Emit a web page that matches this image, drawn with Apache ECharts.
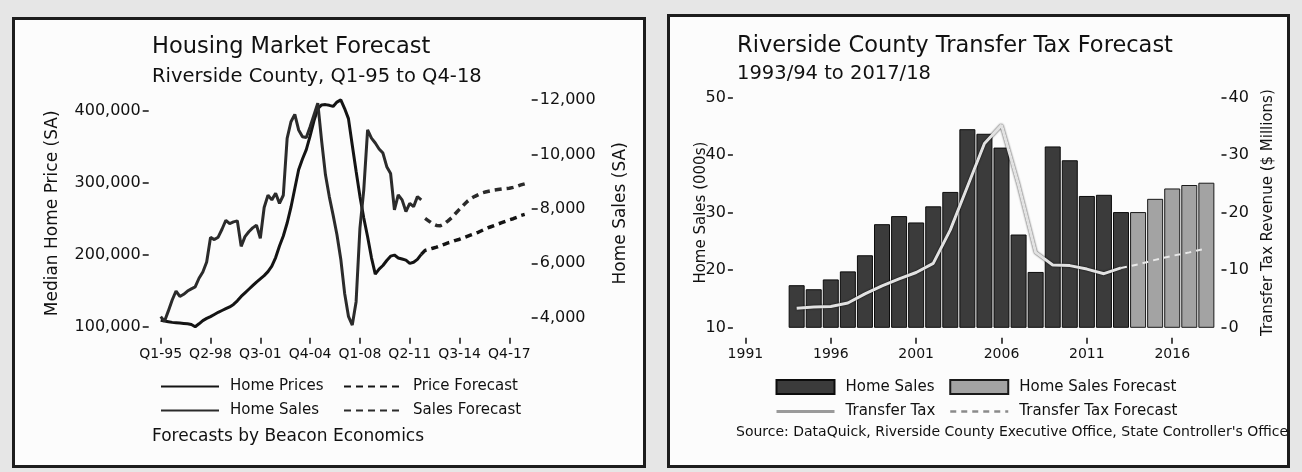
<!DOCTYPE html>
<html>
<head>
<meta charset="utf-8">
<title>Riverside County Housing Forecast</title>
<script src="https://cdn.jsdelivr.net/npm/echarts@6/dist/echarts.min.js"></script>
<style>
  html, body { margin: 0; padding: 0; }
  body { width: 1302px; height: 472px; position: relative; overflow: hidden; background: #e6e6e6; }
  .frame { position: absolute; box-sizing: border-box; border: 3px solid #1d1d1d; background: #fcfcfc; }
  .chart { position: absolute; top: 0; height: 472px; }
</style>
</head>
<body>
<div class="frame" style="left:12px;top:17px;width:634px;height:451px"></div>
<div class="frame" style="left:667px;top:14px;width:623px;height:454px"></div>
<div id="housing" class="chart" style="left:0;width:656px"></div>
<div id="transfer" class="chart" style="left:656px;width:646px"></div>
<script>
// ---- left panel, quarterly Q1-95 .. Q4-18
const firstYear = 1995
const lastYear = 2018

// median home price, Q1-95 .. Q1-12
const homePrices = [
  109000, 108000, 107000, 106000, 105500, 105000, 104500, 104000, 103000, 100000,
  104000, 108500, 111500, 114000, 117000, 120000, 122500, 125000, 127500, 131000,
  136000, 142000, 147000, 152000, 157000, 162000, 166500, 171000, 176500, 184000,
  196000, 212000, 226000, 244000, 266000, 292000, 318000, 333000, 346000, 365000,
  386000, 403000, 408000, 408500, 407500, 406000, 412000, 415000, 403000, 389000,
  352000, 316000, 281000, 251000, 225000, 196000, 173000, 180000, 185000, 192000,
  198000, 199500, 195500, 194000, 192500, 188000, 189500, 193500, 200500
]
// price forecast, Q1-12 .. Q4-18
const priceForecast = [
  200500, 206000, 207500, 209000, 210500, 212500, 214500, 216500, 218000, 220000,
  221500, 223500, 225500, 227500, 229500, 231500, 234000, 236500, 238500, 240500,
  242500, 244500, 246500, 248500, 250000, 252000, 254500, 256000
]
// home sales per quarter, Q1-95 .. Q1-12
const homeSales = [
  4040, 3870, 4250, 4650, 4980, 4780, 4860, 4980, 5060, 5130,
  5450, 5680, 6050, 6950, 6870, 6960, 7250, 7580, 7460, 7520,
  7560, 6620, 6980, 7160, 7300, 7400, 6920, 8050, 8500, 8330,
  8570, 8200, 8500, 10590, 11200, 11470, 10900, 10650, 10620, 11020,
  11450, 11880, 10500, 9250, 8450, 7770, 7050, 6150, 4900, 4050,
  3730, 4590, 7290, 8700, 10900, 10600, 10420, 10200, 10050, 9550,
  9300, 7960, 8510, 8330, 7900, 8200, 8080, 8450, 8330
]
// sales forecast, Q2-12 .. Q4-18
const salesForecast = [
  7650, 7550, 7450, 7390, 7380, 7450, 7560, 7680, 7840, 7990,
  8130, 8270, 8380, 8460, 8530, 8590, 8630, 8660, 8690, 8710,
  8730, 8745, 8760, 8790, 8830, 8880, 8920
]
const priceTicks = [100000, 200000, 300000, 400000]
const salesTicks = [4000, 6000, 8000, 10000, 12000]

// ---- right panel, fiscal years (axis runs 1991 .. 2018)
const axisFirstYear = 1991
const axisLastYear = 2018
const actualYears = [1994, 1995, 1996, 1997, 1998, 1999, 2000, 2001, 2002, 2003,
  2004, 2005, 2006, 2007, 2008, 2009, 2010, 2011, 2012, 2013]
const homeSalesK = [17.4, 16.7, 18.4, 19.8, 22.6, 28.0, 29.4, 28.3, 31.1, 33.6,
  44.5, 43.7, 41.3, 26.2, 19.7, 41.5, 39.1, 32.9, 33.1, 30.1]
const forecastYears = [2014, 2015, 2016, 2017, 2018]
const homeSalesForecastK = [30.1, 32.4, 34.2, 34.8, 35.2]
const transferTax = [3.4, 3.6, 3.7, 4.3, 5.9, 7.3, 8.5, 9.6, 11.2, 17.0,
  24.5, 32.0, 35.2, 24.8, 13.1, 10.9, 10.8, 10.2, 9.4, 10.4]
const taxForecastYears = [2013, 2014, 2015, 2016, 2017, 2018]
const transferTaxForecast = [10.4, 11.0, 11.8, 12.5, 13.1, 13.8]

const font = 'DejaVu Sans'
const ink = '#111'

const quarters = []
for (let y = firstYear; y <= lastYear; y++) {
  for (let q = 1; q <= 4; q++) quarters.push('Q' + q + '-' + String(y).slice(2))
}
const years = []
for (let y = axisFirstYear; y <= axisLastYear; y++) years.push(String(y))

// put a partial series onto a full category axis
function place (axis, values, start) {
  const out = axis.map(() => null)
  values.forEach((v, i) => { out[start + i] = v })
  return out
}
function byYear (list, values) {
  return place(years, values, list[0] - axisFirstYear)
}

const legendText = { fontFamily: font, fontSize: 15, color: ink, padding: [0, 0, 0, 6] }
const titleText = (size) => ({ fontFamily: font, fontSize: size, fontWeight: 'normal', color: ink })
// legend entries for lines: hide the marker ECharts puts in the middle
const lineItem = (name, lineStyle) => ({ name: name, itemStyle: { opacity: 0 }, lineStyle: lineStyle })

const housing = echarts.init(document.getElementById('housing'))
housing.setOption({
  animation: false,
  textStyle: { fontFamily: font, color: ink },
  title: [
    { text: 'Housing Market Forecast', left: 152, top: 36, padding: 0, textStyle: titleText(22.5) },
    { text: 'Riverside County, Q1-95 to Q4-18', left: 152, top: 67, padding: 0, textStyle: titleText(19.5) },
    { text: 'Forecasts by Beacon Economics', left: 152, top: 428, padding: 0, textStyle: titleText(17) }
  ],
  legend: [
    {
      data: [lineItem('Home Prices'), lineItem('Home Sales')],
      orient: 'vertical', left: 160, top: 379, padding: 0,
      itemWidth: 58, itemHeight: 14, itemGap: 9, textStyle: legendText
    },
    {
      data: [lineItem('Price Forecast'), lineItem('Sales Forecast')],
      orient: 'vertical', left: 343, top: 379, padding: 0,
      itemWidth: 58, itemHeight: 14, itemGap: 9, textStyle: legendText
    }
  ],
  grid: { left: 160.7, right: 131.3, top: 100, bottom: 145.3 },
  xAxis: {
    type: 'category',
    data: quarters,
    boundaryGap: false,
    offset: 17,
    axisLine: { show: false, onZero: false },
    axisTick: { inside: true, length: 6, interval: 12, lineStyle: { color: ink, width: 1.5 } },
    axisLabel: { interval: 12, margin: 4, fontSize: 14, color: ink },
    splitLine: { show: false }
  },
  yAxis: [
    {
      type: 'value', min: 100000, max: 414900, offset: 12,
      name: 'Median Home Price (SA)', nameLocation: 'middle', nameRotate: 90, nameGap: 88,
      nameTextStyle: { fontSize: 17, color: ink },
      axisLine: { show: false },
      axisTick: { show: true, length: 6, customValues: priceTicks, lineStyle: { color: ink, width: 1.5 } },
      axisLabel: { customValues: priceTicks, fontSize: 16, margin: 8, color: ink },
      splitLine: { show: false }
    },
    {
      type: 'value', min: 3669, max: 12000, offset: 7,
      name: 'Home Sales (SA)', nameLocation: 'middle', nameRotate: 90, nameGap: 80,
      nameTextStyle: { fontSize: 17, color: ink },
      axisLine: { show: false },
      axisTick: { show: true, length: 6, customValues: salesTicks, lineStyle: { color: ink, width: 1.5 } },
      axisLabel: { customValues: salesTicks, fontSize: 16, margin: 8, color: ink },
      splitLine: { show: false }
    }
  ],
  series: [
    {
      name: 'Home Prices', type: 'line', yAxisIndex: 0, symbol: 'none', clip: false,
      data: place(quarters, homePrices, 0), color: '#141414',
      lineStyle: { width: 3, color: '#141414' }
    },
    {
      name: 'Home Sales', type: 'line', yAxisIndex: 1, symbol: 'none', clip: false,
      data: place(quarters, homeSales, 0), color: '#2b2b2b',
      lineStyle: { width: 3, color: '#2b2b2b' }
    },
    {
      name: 'Price Forecast', type: 'line', yAxisIndex: 0, symbol: 'none', clip: false,
      data: place(quarters, priceForecast, homePrices.length - 1), color: '#141414',
      lineStyle: { width: 3.5, color: '#141414', type: [7, 5] }
    },
    {
      name: 'Sales Forecast', type: 'line', yAxisIndex: 1, symbol: 'none', clip: false,
      data: place(quarters, salesForecast, homeSales.length), color: '#2b2b2b',
      lineStyle: { width: 3.5, color: '#2b2b2b', type: [7, 5] }
    }
  ]
})

const transfer = echarts.init(document.getElementById('transfer'))
transfer.setOption({
  animation: false,
  textStyle: { fontFamily: font, color: ink },
  title: [
    { text: 'Riverside County Transfer Tax Forecast', left: 81, top: 35, padding: 0, textStyle: titleText(22.5) },
    { text: '1993/94 to 2017/18', left: 81, top: 64, padding: 0, textStyle: titleText(19.5) },
    { text: "Source: DataQuick, Riverside County Executive Office, State Controller's Office", left: 80, top: 425, padding: 0, textStyle: titleText(14) }
  ],
  legend: [
    {
      data: [
        { name: 'Home Sales', icon: 'rect' },
        lineItem('Transfer Tax', { color: '#9a9a9a', width: 3, shadowBlur: 0 })
      ],
      orient: 'vertical', left: 119, top: 379, padding: 0,
      itemWidth: 58, itemHeight: 14, itemGap: 9, textStyle: legendText
    },
    {
      data: [
        { name: 'Home Sales Forecast', icon: 'rect' },
        lineItem('Transfer Tax Forecast', { color: '#8a8a8a', width: 2.5 })
      ],
      orient: 'vertical', left: 293, top: 379, padding: 0,
      itemWidth: 58, itemHeight: 14, itemGap: 9, textStyle: legendText
    }
  ],
  grid: { left: 80.9, right: 87.1, top: 97.5, bottom: 144.2 },
  xAxis: {
    type: 'category', data: years, offset: 16,
    axisLine: { show: false, onZero: false },
    axisTick: { show: true, inside: true, length: 6, alignWithLabel: true, lineStyle: { color: ink, width: 1.5 } },
    axisLabel: { interval: 4, fontSize: 14, margin: 4, color: ink },
    splitLine: { show: false }
  },
  yAxis: [
    {
      type: 'value', min: 10, max: 50, interval: 10, startValue: 10, offset: 4, position: 'left',
      name: 'Home Sales (000s)', nameLocation: 'middle', nameRotate: 90, nameGap: 24,
      nameMoveOverlap: false,
      nameTextStyle: { fontSize: 15, color: ink },
      axisLine: { show: false },
      axisTick: { show: true, length: 5, lineStyle: { color: ink, width: 1.5 } },
      axisLabel: { fontSize: 16, margin: 7, color: ink },
      splitLine: { show: false }
    },
    {
      type: 'value', min: 0, max: 40, interval: 10, offset: 6.6, position: 'right',
      name: 'Transfer Tax Revenue ($ Millions)', nameLocation: 'middle', nameRotate: 90, nameGap: 39,
      nameTextStyle: { fontSize: 15, color: ink },
      axisLine: { show: false },
      axisTick: { show: true, length: 5, lineStyle: { color: ink, width: 1.5 } },
      axisLabel: { fontSize: 16, margin: 7, color: ink },
      splitLine: { show: false }
    }
  ],
  series: [
    {
      name: 'Home Sales', type: 'bar', yAxisIndex: 0, barWidth: 16, barGap: '-100%',
      data: byYear(actualYears, homeSalesK),
      color: '#3b3b3b',
      itemStyle: { color: '#3b3b3b', borderColor: '#0c0c0c', borderWidth: 1 }
    },
    {
      name: 'Home Sales Forecast', type: 'bar', yAxisIndex: 0, barWidth: 16, barGap: '-100%',
      data: byYear(forecastYears, homeSalesForecastK),
      color: '#a3a3a3',
      itemStyle: { color: '#a3a3a3', borderColor: '#1a1a1a', borderWidth: 1 }
    },
    {
      name: 'Transfer Tax', type: 'line', yAxisIndex: 1, symbol: 'none', z: 4,
      data: byYear(actualYears, transferTax),
      color: '#9a9a9a',
      lineStyle: { width: 3, color: '#e2e2e2', shadowColor: 'rgba(0,0,0,0.85)', shadowBlur: 2 }
    },
    {
      name: 'Transfer Tax Forecast', type: 'line', yAxisIndex: 1, symbol: 'none', z: 4,
      data: byYear(taxForecastYears, transferTaxForecast),
      color: '#8a8a8a',
      lineStyle: { width: 2, color: '#e8e8e8', type: [6, 5] }
    }
  ]
})
</script>
</body>
</html>
